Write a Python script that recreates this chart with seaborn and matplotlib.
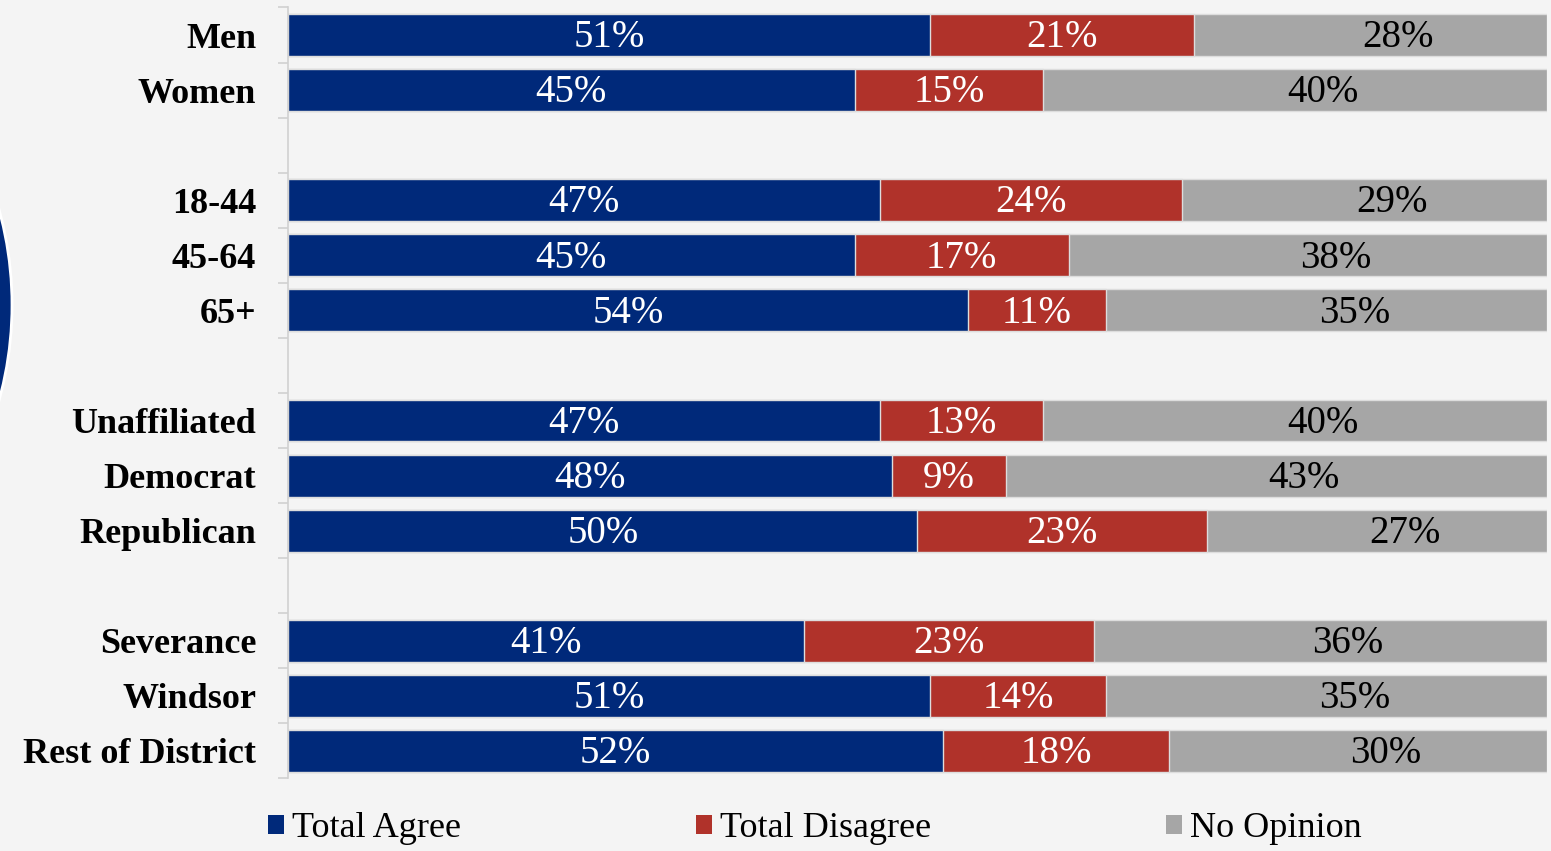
import matplotlib

matplotlib.use("Agg")

import matplotlib.pyplot as plt  # noqa: E402
import pandas as pd  # noqa: E402
import seaborn as sns  # noqa: E402
from matplotlib.patches import Ellipse, Patch  # noqa: E402

# Survey breakdown (percent of respondents per group).
CATEGORIES = ["Men", "Women", "18-44", "45-64", "65+", "Unaffiliated", "Democrat",
              "Republican", "Severance", "Windsor", "Rest of District"]
AGREE = [51, 45, 47, 45, 54, 47, 48, 50, 41, 51, 52]
DISAGREE = [21, 15, 24, 17, 11, 13, 9, 23, 23, 14, 18]
NO_OPINION = [28, 40, 29, 38, 35, 40, 43, 27, 36, 35, 30]

# Row order with blank spacer rows between the demographic blocks.
ROW_ORDER = ["Men", "Women", "", "18-44", "45-64", "65+", " ", "Unaffiliated",
             "Democrat", "Republican", "  ", "Severance", "Windsor", "Rest of District"]

SERIES = ["Total Agree", "Total Disagree", "No Opinion"]
BLUE, RED, GRAY = "#00297A", "#B0322A", "#A6A6A6"
BG = "#F4F4F4"

sns.set_style("white")
plt.rcParams["font.family"] = ["Liberation Serif", "DejaVu Serif"]
plt.rcParams["text.color"] = "black"
plt.rcParams["ytick.color"] = "black"

df = pd.DataFrame({"group": CATEGORIES, "agree": AGREE,
                   "disagree": DISAGREE, "no_opinion": NO_OPINION})
df["agree_dis"] = df["agree"] + df["disagree"]
df["total"] = df["agree_dis"] + df["no_opinion"]

fig = plt.figure(figsize=(15.51, 8.51), dpi=100, facecolor=BG)

# decorative blue disc peeking in from the left edge
fig.add_artist(Ellipse((-0.2231, 0.6416), 0.4617, 0.8414, transform=fig.transFigure,
                       facecolor=BLUE, edgecolor="white", linewidth=2, zorder=0))

ax = fig.add_axes([0.1857, 0.0852, 0.8117, 0.906])
ax.set_facecolor("none")

# stacked bars drawn as overlapping cumulative totals
bar_kws = dict(data=df, y="group", order=ROW_ORDER, orient="h", width=0.76,
               saturation=1, edgecolor="#DDDDDD", linewidth=1, ax=ax)
sns.barplot(x="total", color=GRAY, **bar_kws)
sns.barplot(x="agree_dis", color=RED, **bar_kws)
sns.barplot(x="agree", color=BLUE, **bar_kws)

# the original centres the "No Opinion" labels a little right of the segment middle
GRAY_LABEL_END = 104.4

for _, row in df.iterrows():
    y = ROW_ORDER.index(row["group"]) + 0.05
    segs = [(row["agree"] / 2, row["agree"], "white"),
            (row["agree"] + row["disagree"] / 2, row["disagree"], "white"),
            ((row["agree_dis"] + GRAY_LABEL_END) / 2, row["no_opinion"], "black")]
    for x, v, c in segs:
        ax.text(x, y, f"{v}%", ha="center", va="center", fontsize=28, color=c)

ax.set_xlim(0, 100)
ax.set_ylim(len(ROW_ORDER) - 0.5, -0.5)
ax.set_xlabel("")
ax.set_ylabel("")
ax.set_xticks([])
ax.set_yticks([i - 0.5 for i in range(len(ROW_ORDER) + 1)], minor=True)
ax.tick_params(axis="y", which="major", left=False, length=0, pad=23, labelsize=26,
               labelcolor="black")
ax.tick_params(axis="y", which="minor", left=True, length=7.5, width=1.2, color="#D0D0D0")
for lbl in ax.get_yticklabels():
    lbl.set_fontweight("bold")
for side in ["top", "right", "bottom"]:
    ax.spines[side].set_visible(False)
ax.spines["left"].set_color("#D0D0D0")
ax.spines["left"].set_linewidth(1.2)

# one legend per series so each sits where the original puts it
for name, col, xpos in zip(SERIES, [BLUE, RED, GRAY], [0.1728, 0.4487, 0.7518]):
    fig.legend(handles=[Patch(facecolor=col, edgecolor="none", label=name)],
               loc="center left", bbox_to_anchor=(xpos, 0.026), frameon=False,
               fontsize=26, borderpad=0, borderaxespad=0, handlelength=0.45,
               handleheight=0.45, handletextpad=0.22, labelcolor="black")

fig.savefig("out.png", dpi=100, facecolor=BG)
